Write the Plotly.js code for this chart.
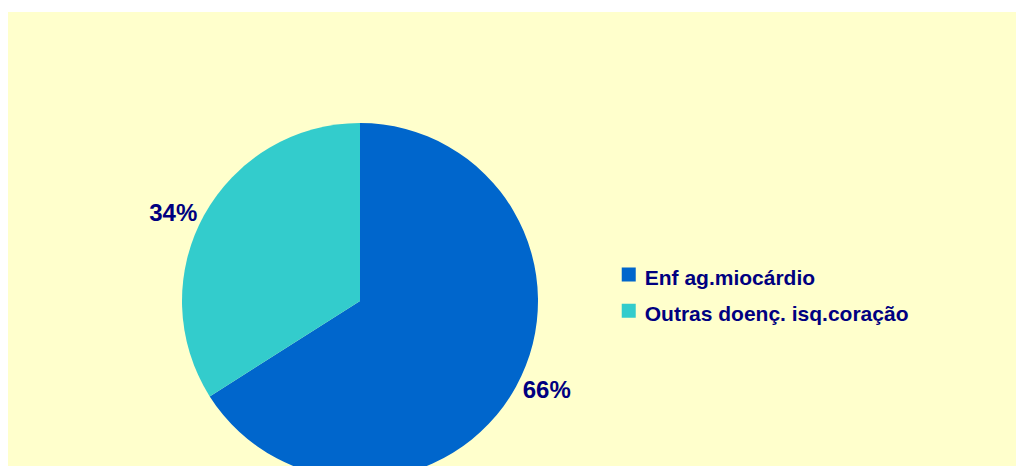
<!DOCTYPE html>
<html>
<head>
<meta charset="utf-8">
<script src="https://cdn.plot.ly/plotly-3.0.1.min.js"></script>
<style>
  html, body { margin: 0; padding: 0; background: #ffffff; overflow: hidden; }
  #wrap { position: absolute; left: 8px; top: 12px; width: 1008px; height: 454px; overflow: hidden; background: #FFFFCC; }
  #chart { width: 1008px; height: 500px; }
</style>
</head>
<body>
<div id="wrap"><div id="chart"></div></div>
<script>
const categories = ["Enf ag.miocárdio", "Outras doenç. isq.coração"];
const values = [66, 34];
const colors = ["#0066CC", "#33CCCC"];

const legendLabels = categories.map(c => '<span style="font-size:21px">' + c + '</span>');

const trace = {
  type: 'pie',
  labels: legendLabels,
  values: values,
  sort: false,
  direction: 'clockwise',
  rotation: 0,
  marker: { colors: colors, line: { width: 0 } },
  textinfo: 'percent',
  textposition: 'outside',
  textfont: { family: 'Liberation Sans, Arial, sans-serif', size: 24, color: '#000080', weight: 'bold' },
  hoverinfo: 'none',
  domain: { x: [0.17262, 0.52579], y: [0.066, 0.778] }
};

const layout = {
  width: 1008,
  height: 500,
  margin: { l: 0, r: 0, t: 0, b: 0 },
  paper_bgcolor: '#FFFFCC',
  plot_bgcolor: '#FFFFCC',
  showlegend: true,
  legend: {
    x: 0.592, xanchor: 'left',
    y: 0.438, yanchor: 'middle',
    bgcolor: 'rgba(0,0,0,0)',
    font: { family: 'Liberation Sans, Arial, sans-serif', size: 25.5, color: '#000080', weight: 'bold' },
    itemclick: false, itemdoubleclick: false
  }
};

Plotly.newPlot('chart', [trace], layout, { displayModeBar: false, staticPlot: true }).then(function () {
  document.querySelectorAll('#chart .legendpie').forEach(function (p) {
    p.setAttribute('d', 'M11,7H-3V-7H11Z');
  });
});
</script>
</body>
</html>
